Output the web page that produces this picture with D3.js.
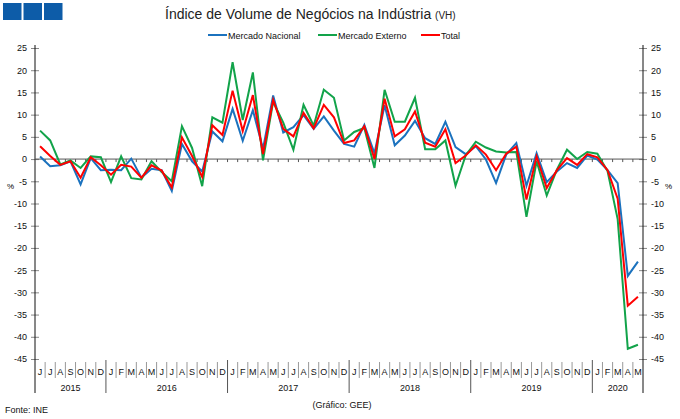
<!DOCTYPE html>
<html>
<head>
<meta charset="utf-8">
<script src="https://cdn.jsdelivr.net/npm/d3@7"></script>
<style>
	body { margin: 0; background: #fff; }
	svg { display: block; font-family: "Liberation Sans", Arial, sans-serif; }
</style>
</head>
<body>
<div id="chart"></div>
<script>

// DATA (jun 2015 - mai 2020, VH %)

const monthInitials = ['J','F','M','A','M','J','J','A','S','O','N','D'];
const years = [2015, 2016, 2017, 2018, 2019, 2020];
const categories = d3.timeMonth.range(new Date(2015, 5, 1), new Date(2020, 5, 1));

const nacional = [
	0.6, -1.6, -1.4, -0.5, -5.7, 0.2, -2.5,
	-2.4, -2.5, 0.1, -4.2, -2.2, -2.5, -7.2, 3.4, -0.5, -2.8, 6.2, 4.0,
	11.3, 4.1, 11.0, 2.3, 14.3, 6.0, 7.2, 9.9, 6.8, 9.6, 6.4, 3.4,
	2.8, 7.7, 1.3, 12.1, 3.1, 5.3, 8.6, 4.7, 3.4, 8.4, 2.7, 1.1,
	2.9, -0.1, -5.4, 1.0, 3.6, -6.0, 1.3, -5.2, -2.8, -0.9, -2.0, 0.8,
	-0.1, -2.5, -5.4, -26.3, -23.1
];

const externo = [
	6.4, 4.2, -1.2, -0.3, -2.0, 0.6, 0.4,
	-5.2, 0.6, -4.3, -4.6, -0.5, -2.9, -5.0, 7.4, 2.5, -6.1, 9.4, 8.2,
	21.8, 8.8, 19.5, -0.3, 12.9, 8.2, 2.1, 12.2, 7.5, 15.6, 13.8, 4.2,
	6.1, 7.0, -2.0, 15.6, 8.4, 8.4, 13.8, 2.2, 2.2, 4.2, -6.0, 0.8,
	3.9, 2.6, 1.7, 1.5, 1.6, -13.0, -0.5, -8.2, -2.4, 2.1, 0.0, 1.6,
	1.2, -2.7, -13.5, -42.7, -41.8
];

const total = [
	2.9, 0.7, -1.3, -0.5, -4.2, 0.4, -1.4,
	-3.5, -1.3, -1.7, -4.2, -1.4, -2.6, -6.4, 4.9, 0.7, -4.0, 7.6, 5.4,
	15.4, 6.3, 14.4, 1.1, 13.3, 6.8, 5.1, 10.4, 6.9, 12.2, 9.4, 3.6,
	4.2, 7.4, 0.0, 13.6, 5.1, 6.7, 10.7, 3.7, 2.8, 6.7, -0.9, 0.8,
	3.1, 1.0, -2.5, 1.2, 2.8, -9.1, 0.6, -6.5, -2.5, 0.2, -1.3, 1.1,
	0.4, -2.5, -8.9, -33.0, -31.0
];

const series = [
	{ name: 'Mercado Nacional', values: nacional, color: '#1b72be' },
	{ name: 'Mercado Externo', values: externo, color: '#12a34a' },
	{ name: 'Total', values: total, color: '#ff0000' }
];

const yTicks = d3.range(-45, 26, 5);

// LAYOUT

const width = 680, height = 419,
			plotLeft = 35, plotRight = 643,
			plotTop = 48, plotBottom = 359;

const svg = d3.select('#chart')
	.append('svg')
	.attr('width', width)
	.attr('height', height);

const x = d3.scaleBand()
	.domain(d3.range(categories.length))
	.range([plotLeft, plotRight])
	.padding(0);

const y = d3.scaleLinear()
	.domain([-45, 25])
	.range([plotBottom, plotTop]);

const cx = i => x(i) + x.bandwidth() / 2;

// logo
svg.append('g')
	.selectAll('rect')
	.data([0, 1, 2])
	.join('rect')
	.attr('x', d => 3 + d * 20.5)
	.attr('y', 3)
	.attr('width', 18.5)
	.attr('height', 17)
	.attr('fill', '#0d5ca8');

// title
const title = svg.append('text')
	.attr('x', 165)
	.attr('y', 19)
	.attr('fill', '#222')
	.style('font-size', '14px');
title.append('tspan').text('Índice de Volume de Negócios na Indústria ');
title.append('tspan').style('font-size', '10px').text('(VH)');

// legend
const legendX = [208, 318, 421];
const legend = svg.append('g')
	.selectAll('g')
	.data(series)
	.join('g')
	.attr('transform', (d, i) => `translate(${legendX[i]},35)`);
legend.append('line')
	.attr('x1', 0).attr('x2', 19)
	.attr('stroke', d => d.color)
	.attr('stroke-width', 2);
legend.append('text')
	.attr('x', 20)
	.attr('y', 3.5)
	.style('font-size', '9px')
	.attr('fill', '#111')
	.text(d => d.name);

// y axes
const drawYAxis = (xPos, side) => {
	const axis = (side === 'left' ? d3.axisLeft(y) : d3.axisRight(y))
		.tickValues(yTicks)
		.tickSize(4)
		.tickPadding(4)
		.tickFormat(d => String(d));
	const g = svg.append('g')
		.attr('transform', `translate(${xPos},0)`)
		.call(axis);
	g.select('.domain').remove();
	g.selectAll('.tick line')
		.attr('x1', -4).attr('x2', 4)
		.attr('stroke', '#888');
	g.selectAll('.tick text')
		.style('font-size', '9px')
		.style('font-family', '"Liberation Sans", Arial, sans-serif')
		.attr('fill', '#111');
	g.append('line')
		.attr('y1', plotTop - 3).attr('y2', 393)
		.attr('stroke', '#111');
};
drawYAxis(plotLeft, 'left');
drawYAxis(plotRight, 'right');

svg.append('text').attr('x', 7).attr('y', 189).style('font-size', '8px').text('%');
svg.append('text').attr('x', 665).attr('y', 189).style('font-size', '8px').text('%');

// zero line with month ticks
const y0 = y(0);
svg.append('line')
	.attr('x1', plotLeft).attr('x2', plotRight)
	.attr('y1', y0).attr('y2', y0)
	.attr('stroke', '#555');
svg.append('g')
	.selectAll('line')
	.data(d3.range(1, categories.length))
	.join('line')
	.attr('x1', d => x(d)).attr('x2', d => x(d))
	.attr('y1', y0).attr('y2', y0 + 3)
	.attr('stroke', '#555');

// month labels and separators
svg.append('g')
	.selectAll('line')
	.data(d3.range(1, categories.length).filter(i => categories[i].getMonth() !== 0))
	.join('line')
	.attr('x1', d => x(d)).attr('x2', d => x(d))
	.attr('y1', 362).attr('y2', 378)
	.attr('stroke', '#999');

svg.append('g')
	.selectAll('text')
	.data(categories)
	.join('text')
	.attr('x', (d, i) => cx(i))
	.attr('y', 375)
	.attr('text-anchor', 'middle')
	.style('font-size', '9px')
	.attr('fill', '#111')
	.text(d => monthInitials[d.getMonth()]);

// year separators and labels
const yearStart = yr => categories.findIndex(d => d.getFullYear() === yr);
const yearEnd = yr => {
	const next = categories.findIndex(d => d.getFullYear() === yr + 1);
	return next < 0 ? categories.length : next;
};
const xEdge = i => i >= categories.length ? plotRight : x(i);

svg.append('g')
	.selectAll('line')
	.data(years.slice(1))
	.join('line')
	.attr('x1', d => x(yearStart(d))).attr('x2', d => x(yearStart(d)))
	.attr('y1', 360).attr('y2', 393)
	.attr('stroke', '#555');

svg.append('g')
	.selectAll('text')
	.data(years)
	.join('text')
	.attr('x', d => (xEdge(yearStart(d)) + xEdge(yearEnd(d))) / 2)
	.attr('y', 391)
	.attr('text-anchor', 'middle')
	.style('font-size', '9px')
	.attr('fill', '#111')
	.text(d => d);

// lines
const line = d3.line()
	.x((d, i) => cx(i))
	.y(d => y(d));

svg.append('g')
	.selectAll('path')
	.data(series)
	.join('path')
	.attr('d', d => line(d.values))
	.attr('fill', 'none')
	.attr('stroke', d => d.color)
	.attr('stroke-width', 2)
	.attr('stroke-linejoin', 'miter');

// footer
svg.append('text')
	.attr('x', 5).attr('y', 413)
	.style('font-size', '9px')
	.attr('fill', '#111')
	.text('Fonte: INE');
svg.append('text')
	.attr('x', 342).attr('y', 408)
	.attr('text-anchor', 'middle')
	.style('font-size', '9px')
	.attr('fill', '#111')
	.text('(Gráfico: GEE)');

</script>
</body>
</html>
